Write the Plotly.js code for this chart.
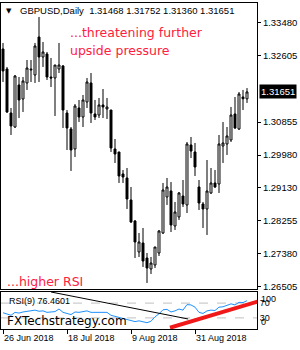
<!DOCTYPE html>
<html><head><meta charset="utf-8">
<script src="https://cdn.plot.ly/plotly-3.0.1.min.js"></script>
<style>html,body{margin:0;padding:0;background:#fff;}#chart{width:300px;height:350px;}</style>
</head><body><div id="chart"></div>
<script>
const symbol = 'GBPUSD';
const timeframe = 'Daily';
const dates = [
 '2018-06-26','2018-06-27','2018-06-28','2018-06-29',
 '2018-07-02','2018-07-03','2018-07-04','2018-07-05','2018-07-06',
 '2018-07-09','2018-07-10','2018-07-11','2018-07-12','2018-07-13',
 '2018-07-16','2018-07-17','2018-07-18','2018-07-19','2018-07-20',
 '2018-07-23','2018-07-24','2018-07-25','2018-07-26','2018-07-27',
 '2018-07-30','2018-07-31','2018-08-01','2018-08-02','2018-08-03',
 '2018-08-06','2018-08-07','2018-08-08','2018-08-09','2018-08-10',
 '2018-08-13','2018-08-14','2018-08-15','2018-08-16','2018-08-17',
 '2018-08-20','2018-08-21','2018-08-22','2018-08-23','2018-08-24',
 '2018-08-27','2018-08-28','2018-08-29','2018-08-30','2018-08-31',
 '2018-09-03','2018-09-04','2018-09-05','2018-09-06','2018-09-07',
 '2018-09-10','2018-09-11','2018-09-12','2018-09-13','2018-09-14',
 '2018-09-17','2018-09-18','2018-09-19'];
const open = [1.32785,1.32257,1.31094,1.30724,1.31834,1.31464,1.31887,1.32230,1.32098,1.33102,
 1.32574,1.32653,1.32045,1.32019,1.32257,1.32336,1.31094,1.30672,1.30143,1.31226,
 1.30989,1.31385,1.31887,1.31068,1.31041,1.31306,1.31200,1.31173,1.30143,1.30064,
 1.29483,1.29377,1.28796,1.28241,1.27422,1.27660,1.27263,1.26973,1.27078,1.27395,
 1.27924,1.28875,1.29033,1.28109,1.28347,1.28901,1.28664,1.30249,1.30064,1.29139,
 1.28690,1.28558,1.28981,1.29245,1.29218,1.30222,1.30275,1.30381,1.31068,1.30672,
 1.31517,1.31468];
const high = [1.32944,1.32310,1.31226,1.32098,1.32045,1.32045,1.32494,1.32494,1.32944,1.33631,
 1.32970,1.32706,1.32547,1.32362,1.32944,1.32362,1.31173,1.30724,1.31332,1.31438,
 1.31570,1.32019,1.32151,1.31438,1.31491,1.31728,1.31491,1.31173,1.30407,1.30064,
 1.29588,1.29641,1.29139,1.28267,1.27924,1.28056,1.27395,1.27290,1.27554,1.28003,
 1.29245,1.29377,1.29271,1.28743,1.29007,1.29324,1.30328,1.30460,1.30302,1.29324,
 1.28743,1.29852,1.29641,1.29588,1.30513,1.30856,1.30724,1.31253,1.31517,1.31649,
 1.31702,1.31752];
const low = [1.31913,1.31094,1.30513,1.30698,1.30962,1.31121,1.31702,1.31913,1.31887,1.31913,
 1.32310,1.31966,1.31781,1.31015,1.32151,1.30698,1.30117,1.29562,1.29932,1.30856,
 1.30724,1.31226,1.30830,1.30909,1.30962,1.30962,1.30936,1.30064,1.29773,1.29245,
 1.29245,1.28558,1.28188,1.27263,1.27290,1.27026,1.26603,1.26841,1.26999,1.27316,
 1.27897,1.28664,1.27950,1.28003,1.28267,1.28611,1.28452,1.29905,1.29430,1.28531,
 1.28056,1.27871,1.28954,1.29113,1.28981,1.29773,1.29985,1.30328,1.30672,1.30645,
 1.31173,1.31360];
const close = [1.32204,1.31121,1.30751,1.32072,1.31438,1.31940,1.32283,1.32250,1.32864,1.32574,
 1.32706,1.32045,1.32019,1.32362,1.32362,1.31173,1.30698,1.30117,1.31279,1.30989,
 1.31438,1.31913,1.31094,1.30989,1.31306,1.31253,1.31253,1.30170,1.30011,1.29430,
 1.29403,1.28822,1.28214,1.27686,1.27686,1.27184,1.26999,1.27131,1.27554,1.27977,
 1.29060,1.29139,1.28135,1.28479,1.28981,1.28690,1.30275,1.30090,1.29668,1.28716,
 1.28558,1.29033,1.29245,1.29139,1.30275,1.30302,1.30487,1.31041,1.30698,1.31596,
 1.31470,1.31651];
const rsi9 = [44,41,37,45,43,46,48,48,51,48,
 49,45,46,47,54,45,42,39,46,45,
 47,49,45,45,46,46,45,37,34,30,
 28,25,23,20,22,19,17,21,33,41,
 52,53,46,49,54,51,66,65,59,45,
 42,49,51,50,59,60,63,68,65,72,
 71.5,76.4601];
const rsiLevels = [70, 30];
const priceTicks = [1.33480,1.32605,1.30855,1.29980,1.29130,1.28255,1.27380,1.26505];
const dateTickIdx = [0,16,32,48];
const rsiResistX = [12, 46.3], rsiResistY = [100, 27];
const rsiSupportX = [41.75, 63.75], rsiSupportY = [3.5, 74.4];

const months = ['Jan','Feb','Mar','Apr','May','Jun','Jul','Aug','Sep','Oct','Nov','Dec'];
function fmtDate(s){const p=s.split('-');return (+p[2])+' '+months[+p[1]-1]+' '+p[0];}
const idx = dates.map((d,i)=>i);
const n = close.length-1;
const SM = 'Liberation Sans, Arial, sans-serif';
const BIG = 'DejaVu Sans, Verdana, sans-serif';
const RED = '#ff2040';

const traces = [
 {type:'candlestick', x:idx, open:open, high:high, low:low, close:close, xaxis:'x', yaxis:'y',
  increasing:{line:{color:'#000',width:1}, fillcolor:'#fff'},
  decreasing:{line:{color:'#000',width:1}, fillcolor:'#000'},
  whiskerwidth:0, hoverinfo:'skip'},
 {type:'scatter', mode:'lines', x:idx, y:rsi9, xaxis:'x2', yaxis:'y2', line:{color:'#1e90ff', width:1}, hoverinfo:'skip'},
 {type:'scatter', mode:'lines', x:rsiResistX, y:rsiResistY, xaxis:'x2', yaxis:'y2', line:{color:'#000', width:1}, hoverinfo:'skip'},
 {type:'scatter', mode:'lines', x:rsiSupportX, y:rsiSupportY, xaxis:'x2', yaxis:'y2', line:{color:'#f01818', width:4}, hoverinfo:'skip'}
];

const axLine = {showline:true, mirror:true, linecolor:'#000', linewidth:1, showgrid:false, zeroline:false, fixedrange:true};
const layout = {
 width:300, height:350, margin:{l:1, r:43, t:3, b:21},
 paper_bgcolor:'#fff', plot_bgcolor:'#fff', showlegend:false, hovermode:false,
 xaxis: Object.assign({domain:[0,1], anchor:'y', range:[-0.5,63.5], showticklabels:false, ticks:'', rangeslider:{visible:false}}, axLine),
 yaxis: Object.assign({domain:[0.1227,1], anchor:'x', range:[1.26444,1.34000], side:'right',
   tickvals:priceTicks, ticktext:priceTicks.map(v=>v.toFixed(5)), ticks:'outside', ticklen:3, tickcolor:'#000',
   tickfont:{family:SM, size:9.5, color:'#000'}}, axLine),
 xaxis2: Object.assign({domain:[0,1], anchor:'y2', range:[-0.5,63.5], tickvals:dateTickIdx,
   ticktext:dateTickIdx.map(i=>fmtDate(dates[i])), ticks:'outside', ticklen:4, tickcolor:'#000',
   ticklabelposition:'outside right', tickfont:{family:SM, size:9, color:'#000'}}, axLine),
 yaxis2: Object.assign({domain:[0,0.1135], anchor:'x2', range:[0,100], side:'right',
   tickvals:rsiLevels, ticktext:rsiLevels.map(String), ticks:'', ticklen:0,
   tickfont:{family:SM, size:9, color:'#000'}}, axLine),
 shapes: rsiLevels.map(l=>({type:'line', xref:'x2 domain', x0:0, x1:1, yref:'y2', y0:l, y1:l, layer:'below',
   line:{color:'#c0c0c0', width:1, dash:'dash'}})),
 annotations: [
  {xref:'paper', yref:'paper', x:0.0332, y:0.9755, text:'\u25BC', showarrow:false, xanchor:'center', yanchor:'middle', font:{family:BIG, size:7, color:'#000'}},
  {xref:'paper', yref:'paper', x:0.0664, y:0.9755, showarrow:false, xanchor:'left', yanchor:'middle',
   text: symbol+','+timeframe+'\u00a0\u00a0'+[open[n],high[n],low[n],close[n]].map(v=>v.toFixed(5)).join('\u00a0'),
   font:{family:SM, size:9.5, color:'#000'}},
  {xref:'paper', yref:'paper', x:0.2617, y:0.908, text:'...threatening further', showarrow:false, xanchor:'left', yanchor:'middle', font:{family:BIG, size:12.5, color:RED}},
  {xref:'paper', yref:'paper', x:0.2617, y:0.8528, text:'upside pressure', showarrow:false, xanchor:'left', yanchor:'middle', font:{family:BIG, size:12.5, color:RED}},
  {xref:'paper', yref:'paper', x:0.0156, y:0.1457, text:'...higher RSI', showarrow:false, xanchor:'left', yanchor:'middle', font:{family:BIG, size:12.5, color:RED}},
  {xref:'paper', yref:'paper', x:0.0234, y:0.0874, text:'RSI(9) '+rsi9[n].toFixed(4), showarrow:false, xanchor:'left', yanchor:'middle', font:{family:SM, size:9, color:'#000'}},
  {xref:'paper', yref:'paper', x:0.0156, y:0.0245, text:'FXTechstrategy.com', showarrow:false, xanchor:'left', yanchor:'middle', font:{family:BIG, size:12, color:'#000'}},
  {xref:'paper', yref:'y', x:1, y:close[n], xshift:2, text:close[n].toFixed(5), showarrow:false, xanchor:'left', yanchor:'middle',
   bgcolor:'#000', borderpad:1, font:{family:SM, size:9.5, color:'#fff'}},
  {xref:'paper', yref:'y2', x:1, y:100, xshift:2, text:'100', showarrow:false, xanchor:'left', yanchor:'top', font:{family:SM, size:9, color:'#000'}},
  {xref:'paper', yref:'y2', x:1, y:0, xshift:2, text:'0', showarrow:false, xanchor:'left', yanchor:'bottom', font:{family:SM, size:9, color:'#000'}}
 ]
};
Plotly.newPlot('chart', traces, layout, {staticPlot:true, displayModeBar:false});
</script></body></html>
